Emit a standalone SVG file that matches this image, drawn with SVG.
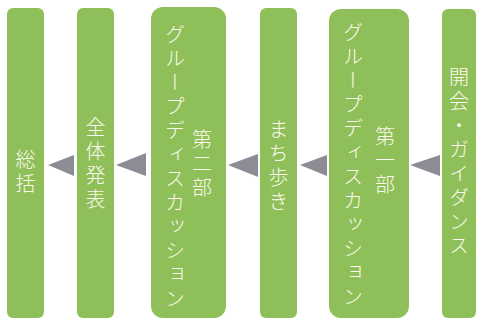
<svg xmlns="http://www.w3.org/2000/svg" width="478" height="320" viewBox="0 0 478 320">
<style>
.box{fill:#8fbf58}
.t{fill:#fbf9ee;font-family:"Noto Sans CJK JP","Noto Sans CJK SC",sans-serif;font-size:20px;font-weight:300;writing-mode:vertical-rl;letter-spacing:4px}
.arr{fill:#8b8c94}
</style>
<rect width="478" height="320" fill="#ffffff"/>
<g id="n1"><rect class="box" x="7" y="8" width="37" height="310" rx="6"/><text class="t" x="25.5" y="149">総括</text></g>
<g id="n2"><rect class="box" x="77" y="8" width="37" height="310" rx="6"/><text class="t" x="95.5" y="117">全体発表</text></g>
<g id="n3"><rect class="box" x="151" y="7" width="75" height="311" rx="12"/><text class="t" x="175" y="24">グループディスカッション</text><text class="t" x="202" y="129">第二部</text></g>
<g id="n4"><rect class="box" x="260" y="8" width="37" height="310" rx="6"/><text class="t" x="278.5" y="119">まち歩き</text></g>
<g id="n5"><rect class="box" x="329" y="9" width="80" height="309" rx="12"/><text class="t" x="353" y="22">グループディスカッション</text><text class="t" x="385" y="126">第一部</text></g>
<g id="n6"><rect class="box" x="442" y="9" width="34" height="309" rx="6"/><text class="t" x="459" y="67">開会・ガイダンス</text></g>
<g id="connectors">
<polygon class="arr" points="48,165 74,155 74,176"/>
<polygon class="arr" points="116,165 146,153 146,176"/>
<polygon class="arr" points="228,165 258,154 258,177"/>
<polygon class="arr" points="300,165 327,155 327,176"/>
<polygon class="arr" points="410,165 440,155 440,176"/>
</g>
</svg>
